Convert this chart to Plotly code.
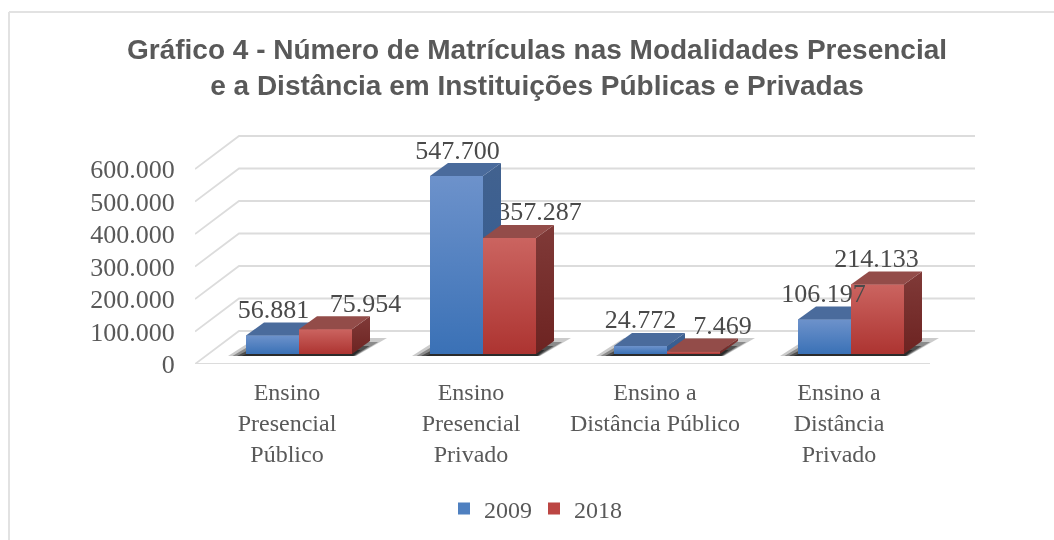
import plotly.graph_objects as go

CATEGORIES = ['Ensino<br>Presencial<br>Público', 'Ensino<br>Presencial<br>Privado',
              'Ensino a<br>Distância Público', 'Ensino a<br>Distância<br>Privado']
YEARS = ['2009', '2018']
VALUES_2009 = [56881, 547700, 24772, 106197]
VALUES_2018 = [75954, 357287, 7469, 214133]
Y_TICKS = [0, 100000, 200000, 300000, 400000, 500000, 600000]
TITLE = 'Gráfico 4 - Número de Matrículas nas Modalidades Presencial<br>e a Distância em Instituições Públicas e Privadas'

#region <LAYOUT CONFIG>
W, H = 1054, 540
PLOT_L, PLOT_R, PLOT_T, PLOT_B = 195, 975, 130, 364
PX_PER_CAT = 184
PX_PER_VAL = 32.5 / 100000
SERIF = 'Liberation Serif'
GRID = '#dcdcdc'
FRONT = {'2009': ['#3a71b6', '#6d92cb'], '2018': ['#ad3431', '#cb6460']}
MID = {'2009': '#4f80c0', '2018': '#bc4643'}
TOP = {'2009': '#4a6b9c', '2018': '#934c49'}
SIDE = {'2009': ['#2f5a94', '#42628f'], '2018': ['#6d2321', '#803a38']}
BAR_W = 53
# label nudges in px, the source chart moved some of them by hand
LABEL_SHIFT = {'2009': [1, 1, 0, -1], '2018': [40, 30, 29, -1]}
# draw order: the 2018 labels sit behind the 2009 bars, as in the source
Z_ORDER = {'2009': 2, '2018': 3}
LABEL_Z = {'2009': 4, '2018': 1}
#endregion

def dx(px):
    return px / PX_PER_CAT

def dy(px):
    return px / PX_PER_VAL

def frac_x(px):
    return (px - PLOT_L) / (PLOT_R - PLOT_L)

def frac_y(px):
    return (PLOT_B - px) / (PLOT_B - PLOT_T)

WALL_X, WALL_Y = dx(44), dy(33)
FLOOR_X, FLOOR_Y = dx(12), dy(10)
DEPTH_X, DEPTH_Y = dx(18), dy(13)
FRONT_W = (930 - 195) / PX_PER_CAT
BACK_W = (975 - 238) / PX_PER_CAT

fig = go.Figure()

# walls and floor
grid_x, grid_y = [0, FRONT_W, None], [0, 0, None]
for v in Y_TICKS:
    grid_x += [0, WALL_X, WALL_X + BACK_W, None]
    grid_y += [v, v + WALL_Y, v + WALL_Y, None]
fig.add_trace(go.Scatter(x=grid_x, y=grid_y, mode='lines', line=dict(color=GRID, width=1.8),
                         showlegend=False, hoverinfo='skip', zorder=0))

# floor shadows under each pair of bars
centers = [i + 0.5 + FLOOR_X for i in range(len(CATEGORIES))]
for c in centers:
    x0, x1 = c - dx(BAR_W), c + dx(BAR_W)
    for grow, alpha in [(1.0, 0.22), (0.75, 0.35), (0.5, 0.5), (0.25, 0.6)]:
        sx = [x0 - dx(18 * grow), x1 + dx(4 * grow), x1 + dx(35 * grow), x0 + dx(10)]
        sy = [FLOOR_Y - dy(2), FLOOR_Y - dy(2), FLOOR_Y + dy(16 * grow), FLOOR_Y + dy(16 * grow)]
        fig.add_trace(go.Scatter(x=sx, y=sy, fill='toself', mode='none', fillcolor=f'rgba(20,20,20,{alpha})',
                                 showlegend=False, hoverinfo='skip', zorder=0))

series = [('2009', VALUES_2009, -1), ('2018', VALUES_2018, 1)]
for year, values, side in series:
    z = Z_ORDER[year]
    xs = [c + side * dx(BAR_W) / 2 for c in centers]
    fig.add_trace(go.Bar(x=xs, y=values, base=[FLOOR_Y] * len(xs), width=dx(BAR_W), name=year,
                         marker=dict(color=MID[year], line_width=0), zorder=z, hoverinfo='skip'))
    for x, v in zip(xs, values):
        l, r = x - dx(BAR_W) / 2, x + dx(BAR_W) / 2
        b, t = FLOOR_Y, FLOOR_Y + v
        # front gradient
        fig.add_trace(go.Scatter(x=[l, r, r, l], y=[b, b, t, t], fill='toself', mode='none',
                                 fillgradient=dict(type='vertical', colorscale=[[0, FRONT[year][0]], [1, FRONT[year][1]]]),
                                 showlegend=False, hoverinfo='skip', zorder=z))
        # side and top faces
        fig.add_trace(go.Scatter(x=[r, r + DEPTH_X, r + DEPTH_X, r], y=[b, b + DEPTH_Y, t + DEPTH_Y, t],
                                 fill='toself', mode='none',
                                 fillgradient=dict(type='vertical', colorscale=[[0, SIDE[year][0]], [1, SIDE[year][1]]]),
                                 showlegend=False, hoverinfo='skip', zorder=z))
        fig.add_trace(go.Scatter(x=[l, r, r + DEPTH_X, l + DEPTH_X], y=[t, t, t + DEPTH_Y, t + DEPTH_Y],
                                 fill='toself', mode='none', fillcolor=TOP[year],
                                 showlegend=False, hoverinfo='skip', zorder=z))

for year, values, side in series:
    xs = [c + side * dx(BAR_W) / 2 + dx(s) for c, s in zip(centers, LABEL_SHIFT[year])]
    ys = [FLOOR_Y + v + dy(24) for v in values]
    labels = [f'{v:,}'.replace(',', '.') for v in values]
    fig.add_trace(go.Scatter(x=xs, y=ys, text=labels, mode='text', textposition='middle center',
                             textfont=dict(family=SERIF, size=26, color='#4a4a4a'),
                             showlegend=False, hoverinfo='skip', zorder=LABEL_Z[year]))

fig.update_layout(
    width=W, height=H,
    margin=dict(l=PLOT_L, r=W - PLOT_R, t=PLOT_T, b=H - PLOT_B, pad=0, autoexpand=False),
    paper_bgcolor='white', plot_bgcolor='white',
    separators=',.',
    barmode='overlay',
    title=dict(text=TITLE, x=537 / W, xanchor='center', y=1 - 59 / H, yanchor='middle', xref='container', yref='container',
               font=dict(family='Liberation Sans', size=28, color='#595959', weight='bold')),
    legend=dict(orientation='h', x=frac_x(444), y=frac_y(509), xanchor='left', yanchor='middle', xref='paper', yref='paper',
                font=dict(family=SERIF, size=24, color='#595959'), entrywidth=45, traceorder='normal'),
    shapes=[dict(type='line', xref='paper', yref='paper', x0=frac_x(9), x1=frac_x(W), y0=frac_y(12), y1=frac_y(12),
                 line=dict(color='#e2e2e2', width=2)),
            dict(type='line', xref='paper', yref='paper', x0=frac_x(9), x1=frac_x(9), y0=frac_y(12), y1=frac_y(H),
                 line=dict(color='#e2e2e2', width=2))],
)
fig.update_xaxes(range=[0, (PLOT_R - PLOT_L) / PX_PER_CAT], tickmode='array',
                 tickvals=[i + 0.5 for i in range(len(CATEGORIES))], ticktext=CATEGORIES, tickangle=0,
                 showgrid=False, zeroline=False, showline=False, ticks='outside', ticklen=6, tickcolor='rgba(0,0,0,0)',
                 tickfont=dict(family=SERIF, size=24, color='#595959'))
fig.update_yaxes(range=[0, (PLOT_B - PLOT_T) / PX_PER_VAL], tickmode='array', tickvals=Y_TICKS, tickformat=',d',
                 showgrid=False, zeroline=False, showline=False, ticks='outside', ticklen=14, tickcolor='rgba(0,0,0,0)',
                 tickfont=dict(family=SERIF, size=26, color='#595959'))

fig.write_html('out.html', config=dict(displayModeBar=False),
               post_script="document.body.style.margin='0';document.getElementById('{plot_id}').style.filter='blur(0.6px)';")
